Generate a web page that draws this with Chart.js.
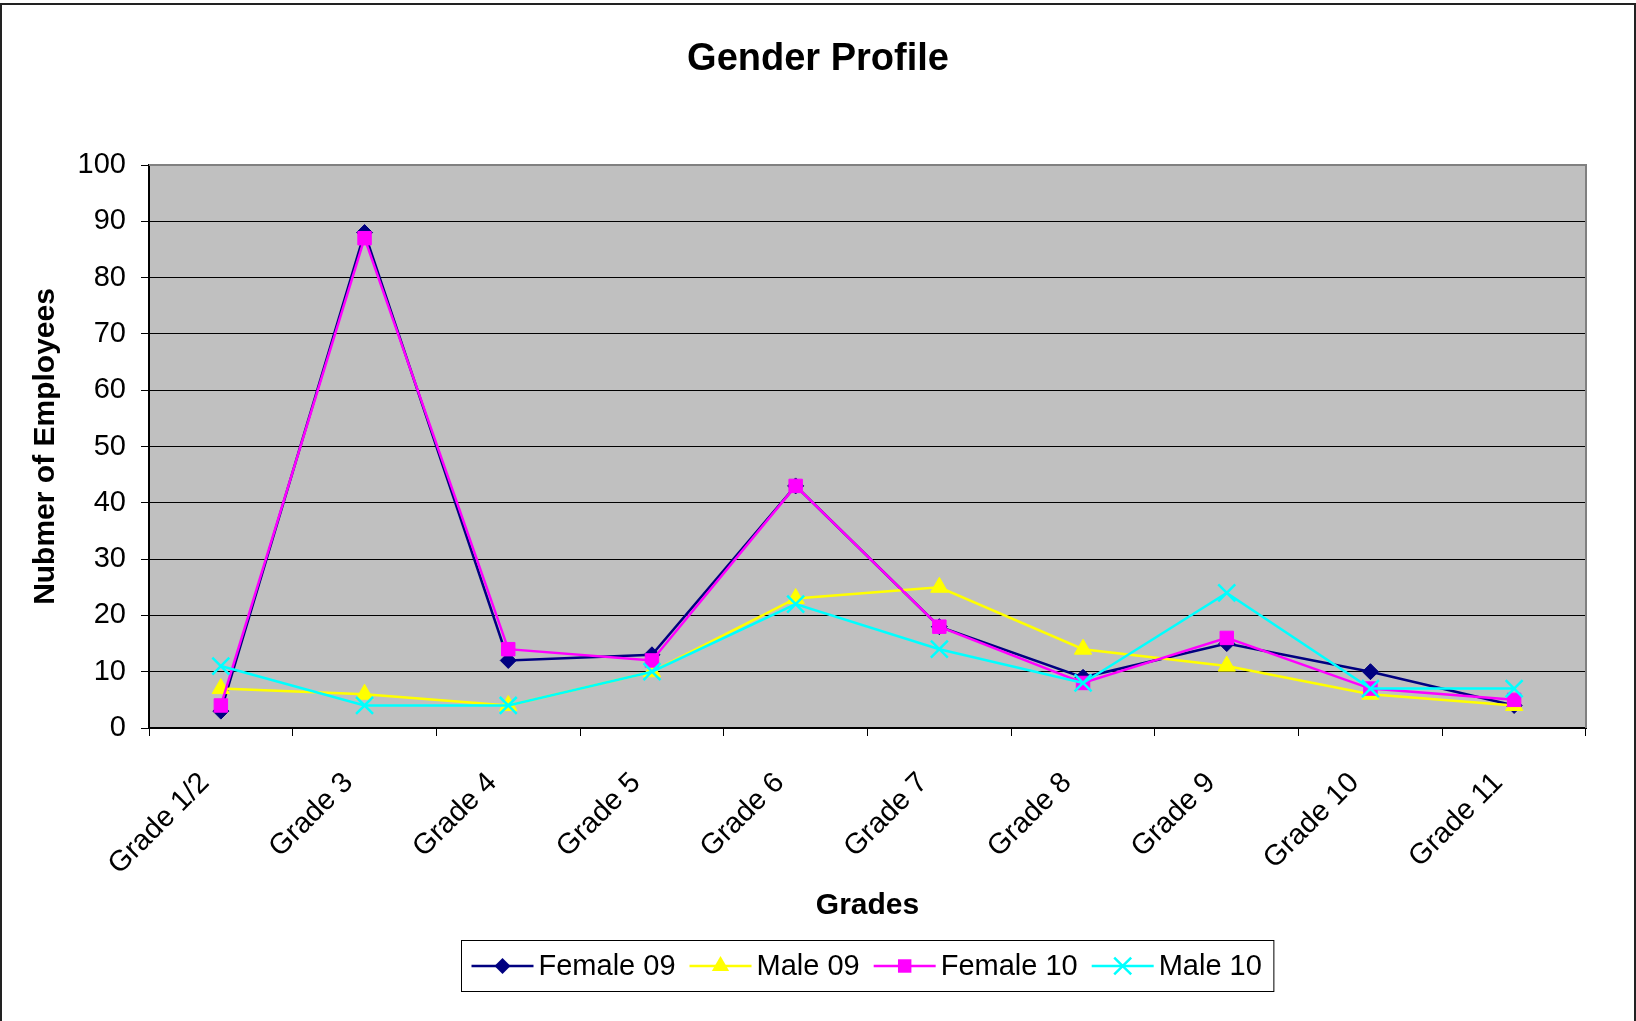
<!DOCTYPE html>
<html>
<head>
<meta charset="utf-8">
<script src="https://cdn.jsdelivr.net/npm/chart.js@4.4.1/dist/chart.umd.min.js"></script>
<style>
html,body{margin:0;padding:0;background:#fff;}
canvas{display:block;}
</style>
</head>
<body>
<canvas id="c" width="1636" height="1021"></canvas>
<script>
const categories = ['Grade 1/2','Grade 3','Grade 4','Grade 5','Grade 6','Grade 7','Grade 8','Grade 9','Grade 10','Grade 11'];
const female09 = [3, 88, 12, 13, 43, 18, 9, 15, 10, 4];
const male09   = [7, 6, 4, 10, 23, 25, 14, 11, 6, 4];
const female10 = [4, 87, 14, 12, 43, 18, 8, 16, 7, 5];
const male10   = [11, 4, 4, 10, 22, 14, 8, 24, 7, 7];
const seriesLabels = ['Female 09','Male 09','Female 10','Male 10'];
const yMin = 0, yMax = 100, yStep = 10;

const FONT = '"Liberation Sans", Arial, sans-serif';

function drawMarker(ctx, style, x, y, r, color) {
  ctx.save();
  ctx.fillStyle = color; ctx.strokeStyle = color;
  ctx.beginPath();
  if (style === 'rectRot') {
    ctx.moveTo(x - r, y); ctx.lineTo(x, y - r); ctx.lineTo(x + r, y); ctx.lineTo(x, y + r); ctx.closePath();
    ctx.fill();
  } else if (style === 'triangle') {
    ctx.moveTo(x, y - r); ctx.lineTo(x + 0.866 * r, y + 0.5 * r); ctx.lineTo(x - 0.866 * r, y + 0.5 * r); ctx.closePath();
    ctx.fill();
  } else if (style === 'rect') {
    const s = r * Math.SQRT1_2;
    ctx.rect(x - s, y - s, 2 * s, 2 * s); ctx.fill();
  } else if (style === 'crossRot') {
    const o = r * Math.SQRT1_2;
    ctx.lineWidth = 2.5;
    ctx.moveTo(x - o, y - o); ctx.lineTo(x + o, y + o);
    ctx.moveTo(x + o, y - o); ctx.lineTo(x - o, y + o);
    ctx.stroke();
  }
  ctx.restore();
}

const bgPlugin = {
  id: 'bgPlugin',
  beforeDraw(chart) {
    const {ctx, chartArea: a} = chart;
    ctx.save();
    ctx.fillStyle = '#fff';
    ctx.fillRect(0, 0, chart.width, chart.height);
    ctx.strokeStyle = '#222';
    ctx.lineWidth = 2;
    ctx.strokeRect(1, 4, chart.width - 2, chart.height + 20);
    ctx.fillStyle = '#C0C0C0';
    ctx.fillRect(a.left, a.top, a.right - a.left, a.bottom - a.top);
    ctx.restore();
  },
  beforeDatasetsDraw(chart) {
    const {ctx, chartArea: a} = chart;
    ctx.save();
    ctx.strokeStyle = '#808080';
    ctx.lineWidth = 2;
    ctx.beginPath();
    ctx.moveTo(a.left, a.top); ctx.lineTo(a.right, a.top); ctx.lineTo(a.right, a.bottom);
    ctx.stroke();
    ctx.restore();
  }
};

const legendPlugin = {
  id: 'excelLegend',
  afterDraw(chart) {
    const ctx = chart.ctx;
    const a = chart.chartArea;
    ctx.save();
    ctx.font = '29px ' + FONT;
    const dsets = chart.data.datasets;
    const lineLen = 62, textGap = 5, itemGap = 14, padL = 10, padR = 12;
    const widths = dsets.map(d => ctx.measureText(d.label).width);
    let total = padL + padR + itemGap * (dsets.length - 1);
    widths.forEach(w => total += lineLen + textGap + w);
    const cx = (a.left + a.right) / 2;
    const boxLeft = Math.round(cx - total / 2) + 0.5;
    const boxTop = chart.height - 81 + 0.5, boxH = 51;
    ctx.fillStyle = '#fff';
    ctx.fillRect(boxLeft, boxTop, total, boxH);
    ctx.strokeStyle = '#000';
    ctx.lineWidth = 1;
    ctx.strokeRect(boxLeft, boxTop, total, boxH);
    const midY = boxTop + boxH / 2;
    let x = boxLeft + padL;
    dsets.forEach((d, i) => {
      ctx.strokeStyle = d.borderColor;
      ctx.lineWidth = 2.5;
      ctx.beginPath();
      ctx.moveTo(x, midY); ctx.lineTo(x + lineLen, midY);
      ctx.stroke();
      drawMarker(ctx, d.pointStyle, x + lineLen / 2, midY, d.pointRadius, d.pointBackgroundColor);
      ctx.fillStyle = '#000';
      ctx.textBaseline = 'middle';
      ctx.textAlign = 'left';
      ctx.fillText(d.label, x + lineLen + textGap, midY + 1);
      x += lineLen + textGap + widths[i] + itemGap;
    });
    ctx.restore();
  }
};

function series(label, data, color, style, radius, order) {
  return {
    label: label, data: data,
    borderColor: color, backgroundColor: color,
    pointBackgroundColor: color, pointBorderColor: color,
    pointStyle: style, pointRadius: radius, pointHoverRadius: radius,
    pointBorderWidth: style === 'crossRot' ? 2.5 : 1,
    borderWidth: 2.5, tension: 0, fill: false, order: order
  };
}

new Chart(document.getElementById('c'), {
  type: 'line',
  data: {
    labels: categories,
    datasets: [
      series(seriesLabels[0], female09, '#000080', 'rectRot', 8, 4),
      series(seriesLabels[1], male09, '#FFFF00', 'triangle', 10, 3),
      series(seriesLabels[2], female10, '#FF00FF', 'rect', 9.5, 2),
      series(seriesLabels[3], male10, '#00FFFF', 'crossRot', 12, 1)
    ]
  },
  options: {
    responsive: false,
    animation: false,
    devicePixelRatio: 1,
    layout: { padding: { left: 0, right: 0, top: 0, bottom: 89 } },
    plugins: {
      legend: { display: false },
      tooltip: { enabled: false },
      title: {
        display: true, text: 'Gender Profile', color: '#000',
        font: { family: FONT, size: 38, weight: 'bold', lineHeight: 1.2 },
        padding: { top: 37, bottom: 82.4 }
      }
    },
    scales: {
      x: {
        type: 'category', offset: true,
        grid: { display: true, drawOnChartArea: false, offset: true, color: '#000', tickLength: 8, lineWidth: 1 },
        border: { display: true, color: '#000', width: 2 },
        ticks: { color: '#000', font: { family: FONT, size: 29 }, minRotation: 45, maxRotation: 45, autoSkip: false, padding: 30, labelOffset: -16 },
        title: { display: true, text: 'Grades', color: '#000', font: { family: FONT, size: 30, weight: 'bold', lineHeight: 1.2 }, padding: { top: 0, bottom: 8 } },
        afterFit(s) { s.height = 204; }
      },
      y: {
        position: 'left', min: yMin, max: yMax,
        ticks: { stepSize: yStep, color: '#000', font: { family: FONT, size: 29 }, padding: 15 },
        grid: { color: '#000', lineWidth: 1, tickLength: 8, drawTicks: true },
        border: { display: true, color: '#000', width: 2 },
        title: { display: true, text: 'Nubmer of Employees', color: '#000', font: { family: FONT, size: 30, weight: 'bold', lineHeight: 1.2 }, padding: { top: 28, bottom: 0 } },
        afterFit(s) { s.width = 149; }
      },
      yR: {
        position: 'right', display: true,
        grid: { display: false }, border: { display: false }, ticks: { display: false },
        afterFit(s) { s.width = 50; }
      }
    }
  },
  plugins: [bgPlugin, legendPlugin]
});
</script>
</body>
</html>
